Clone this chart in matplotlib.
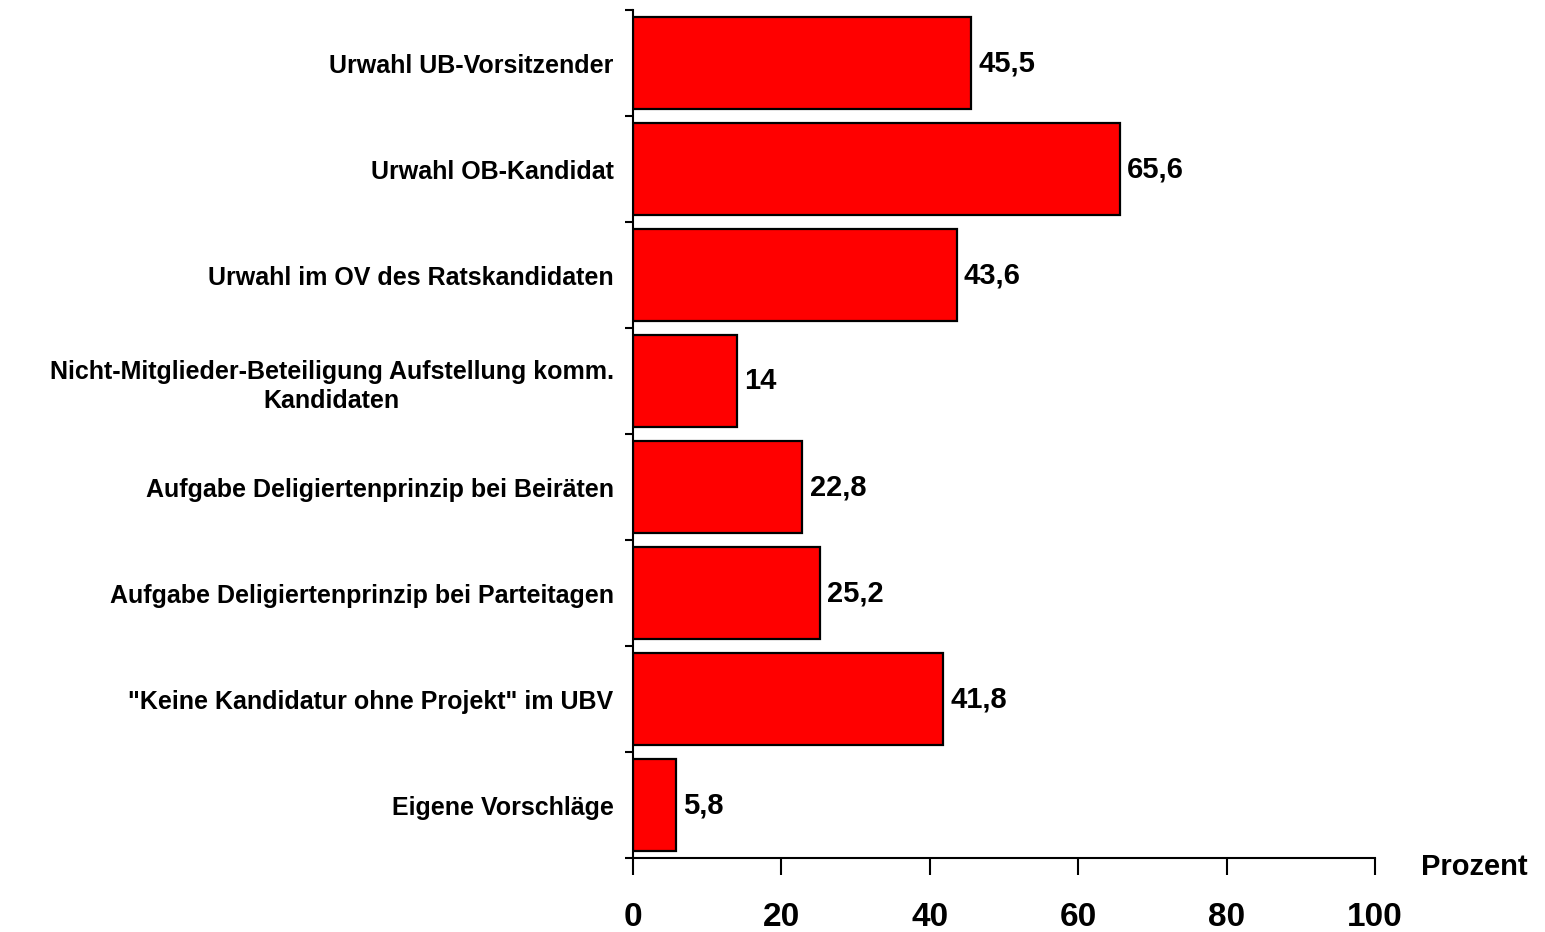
import matplotlib.pyplot as plt
import numpy as np

plt.rcParams['font.family'] = ['Liberation Sans', 'DejaVu Sans']

# Kategorien (von oben nach unten) und Werte in Prozent
kategorien = ["Urwahl UB-Vorsitzender",
              "Urwahl OB-Kandidat",
              "Urwahl im OV des Ratskandidaten",
              "Nicht-Mitglieder-Beteiligung Aufstellung komm.\nKandidaten",
              "Aufgabe Deligiertenprinzip bei Beiräten",
              "Aufgabe Deligiertenprinzip bei Parteitagen",
              "\"Keine Kandidatur ohne Projekt\" im UBV",
              "Eigene Vorschläge"]
werte = [45.5, 65.6, 43.6, 14, 22.8, 25.2, 41.8, 5.8]
xticks = [0, 20, 40, 60, 80, 100]

fig = plt.figure(figsize=(15.45, 9.32), dpi=100)
ax = fig.add_axes([0.4097, 0.0794, 0.4803, 0.9096])

n = len(werte)
y = np.arange(n)[::-1]
ax.barh(y, werte, height=0.87, color='#ff0000', edgecolor='black', linewidth=1.6)

# Wertebeschriftung
for yi, w in zip(y, werte):
    txt = ("%g" % w).replace(".", ",")
    ax.text(w + 1.0, yi, txt, va='center', ha='left', fontsize=21, fontweight='bold')

ax.set_xlim(0, 100)
ax.set_ylim(-0.5, n - 0.5)

# Ticks an den Kategoriegrenzen, Beschriftung in der Mitte
ax.set_yticks(np.arange(n + 1) - 0.5)
ax.set_yticklabels([])
ax.set_yticks(y, minor=True)
ax.set_yticklabels(kategorien, minor=True, fontsize=18, fontweight='bold',
                   multialignment='center', linespacing=1.3)
ax.tick_params(axis='y', which='major', length=6, width=1.5, direction='out')
ax.tick_params(axis='y', which='minor', length=0, pad=14)

ax.set_xticks(xticks)
ax.set_xticklabels([str(t) for t in xticks], fontsize=24, fontweight='bold')
ax.tick_params(axis='x', length=12, width=1.5, direction='out', pad=20)

for s in ['top', 'right']:
    ax.spines[s].set_visible(False)
for s in ['left', 'bottom']:
    ax.spines[s].set_linewidth(1.5)

ax.text(1.062, -0.011, "Prozent", transform=ax.transAxes, fontsize=21,
        fontweight='bold', ha='left', va='center')

fig.savefig("out.png", dpi=100)
